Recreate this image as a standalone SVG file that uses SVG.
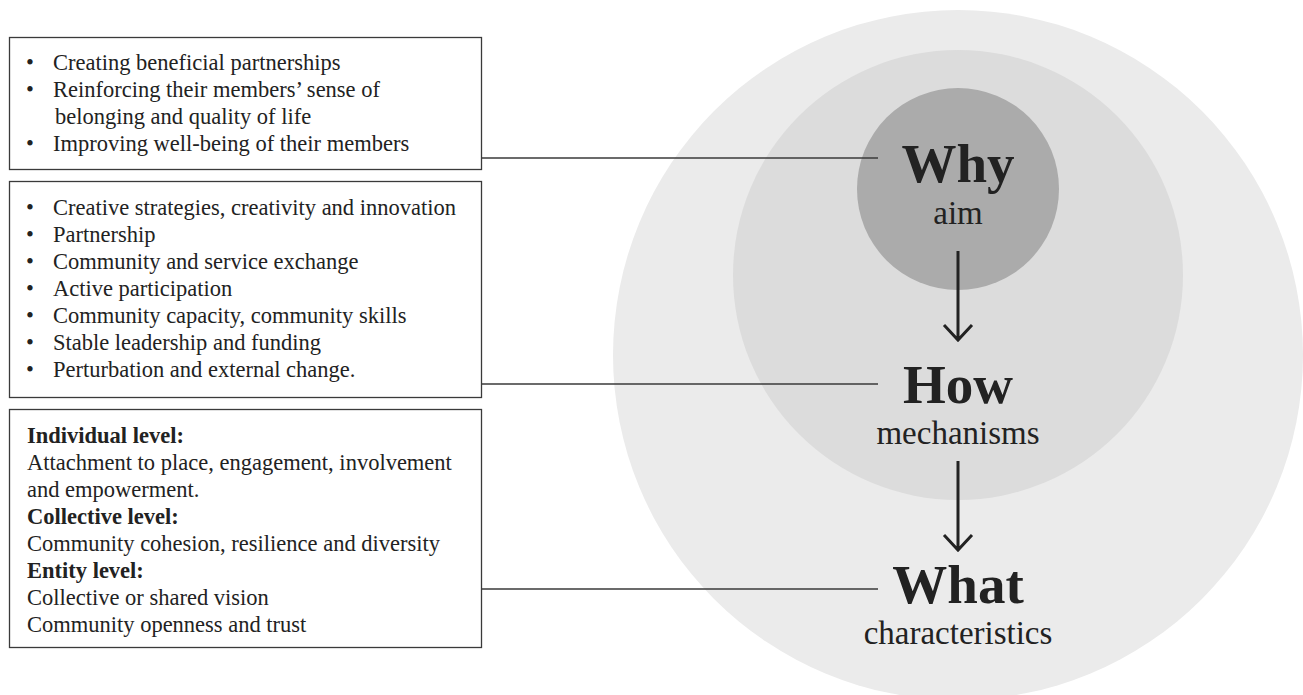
<svg xmlns="http://www.w3.org/2000/svg" width="1303" height="695" viewBox="0 0 1303 695">
<defs>
<style>
.box{fill:#ffffff;stroke:#3a3a3a;stroke-width:1.3}
.t{font-family:"Liberation Serif","Times New Roman",serif;font-size:22.5px;fill:#222}
.b{font-weight:bold}
.big{font-family:"Liberation Serif","Times New Roman",serif;font-size:55px;font-weight:bold;fill:#222;text-anchor:middle}
.sub{font-family:"Liberation Serif","Times New Roman",serif;font-size:33px;fill:#222;text-anchor:middle}
.conn{stroke:#3a3a3a;stroke-width:1.3;fill:none}
.arr{stroke:#222;stroke-width:3;fill:none}
</style>
</defs>
<rect width="1303" height="695" fill="#ffffff"/>
<g id="circles">
<circle id="outer" cx="958" cy="355" r="345" fill="#ebebeb"/>
<circle id="middle" cx="958" cy="275" r="225" fill="#dcdcdc"/>
<circle id="inner" cx="958" cy="189" r="101" fill="#ababab"/>
</g>
<g id="connectors">
<line class="conn" x1="482" y1="158" x2="878" y2="158"/>
<line class="conn" x1="482" y1="384" x2="878" y2="384"/>
<line class="conn" x1="482" y1="589" x2="878" y2="589"/>
<path class="arr" d="M958,251 V340 M944,325 L958,340 L972,325"/>
<path class="arr" d="M958,461 V550 M944,535 L958,550 L972,535"/>
</g>
<g id="why">
<text class="big" x="958" y="182">Why</text>
<text class="sub" x="958" y="224">aim</text>
</g>
<g id="how">
<text class="big" x="958" y="403">How</text>
<text class="sub" x="958" y="444">mechanisms</text>
</g>
<g id="what">
<text class="big" x="958" y="603">What</text>
<text class="sub" x="958" y="644">characteristics</text>
</g>
<g id="box-why">
<rect class="box" x="9.5" y="37.5" width="472" height="132"/>
<text class="t" x="26" y="70">•</text><text class="t" x="53" y="70">Creating beneficial partnerships</text>
<text class="t" x="26" y="97">•</text><text class="t" x="53" y="97">Reinforcing their members’ sense of</text>
<text class="t" x="55" y="124">belonging and quality of life</text>
<text class="t" x="26" y="151">•</text><text class="t" x="53" y="151">Improving well-being of their members</text>
</g>
<g id="box-how">
<rect class="box" x="9.5" y="181.5" width="472" height="216"/>
<text class="t" x="26" y="215">•</text><text class="t" x="53" y="215">Creative strategies, creativity and innovation</text>
<text class="t" x="26" y="242">•</text><text class="t" x="53" y="242">Partnership</text>
<text class="t" x="26" y="269">•</text><text class="t" x="53" y="269">Community and service exchange</text>
<text class="t" x="26" y="296">•</text><text class="t" x="53" y="296">Active participation</text>
<text class="t" x="26" y="323">•</text><text class="t" x="53" y="323">Community capacity, community skills</text>
<text class="t" x="26" y="350">•</text><text class="t" x="53" y="350">Stable leadership and funding</text>
<text class="t" x="26" y="377">•</text><text class="t" x="53" y="377">Perturbation and external change.</text>
</g>
<g id="box-what">
<rect class="box" x="9.5" y="409.5" width="472" height="238"/>
<text class="t b" x="27" y="443">Individual level:</text>
<text class="t" x="27" y="470">Attachment to place, engagement, involvement</text>
<text class="t" x="27" y="497">and empowerment.</text>
<text class="t b" x="27" y="524">Collective level:</text>
<text class="t" x="27" y="551">Community cohesion, resilience and diversity</text>
<text class="t b" x="27" y="578">Entity level:</text>
<text class="t" x="27" y="605">Collective or shared vision</text>
<text class="t" x="27" y="632">Community openness and trust</text>
</g>
</svg>
